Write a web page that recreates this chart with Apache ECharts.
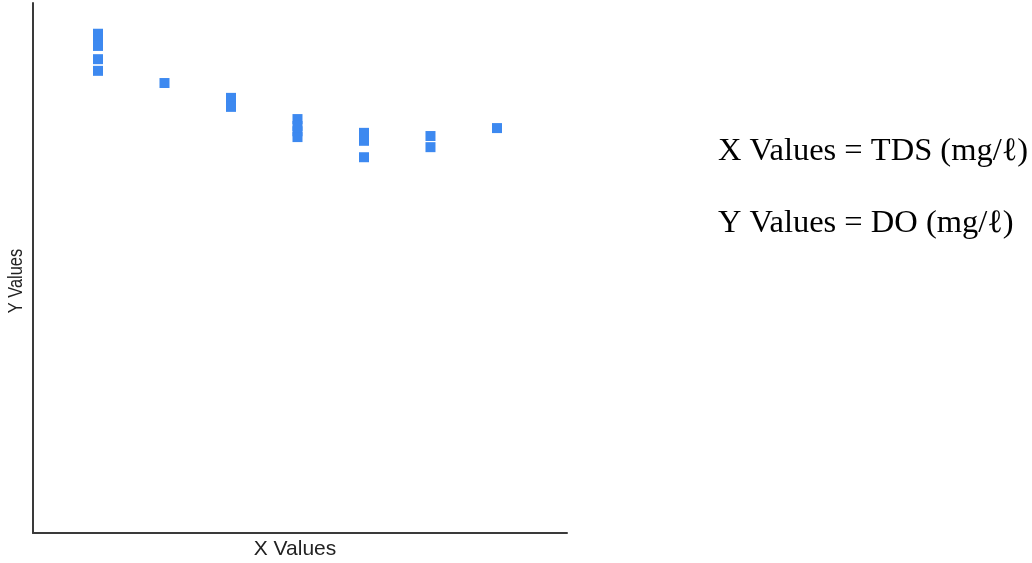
<!DOCTYPE html>
<html>
<head>
<meta charset="utf-8">
<script src="https://cdn.jsdelivr.net/npm/echarts@6/dist/echarts.min.js"></script>
<style>
  html, body { margin: 0; padding: 0; background: #ffffff; }
  #chart { width: 1032px; height: 563px; }
</style>
</head>
<body>
<div id="chart"></div>
<script>
// Sampling stations (x) and their dissolved oxygen readings (y), one reading per point
const stationX = [1, 1, 1, 1, 1, 2, 3, 3, 4, 4, 4, 4, 5, 5, 5, 6, 6, 7];
const doValues = [9.42, 9.30, 9.19, 8.94, 8.72, 8.49, 8.21, 8.04, 7.81, 7.68, 7.58, 7.47, 7.55, 7.40, 7.09, 7.49, 7.28, 7.64];

const xAxisName = 'X Values';
const yAxisName = 'Y Values';
const noteLines = ['X Values = TDS (mg/\u2113)', 'Y Values = DO (mg/\u2113)'];

const points = stationX.map((x, i) => [x, doValues[i]]);

const chart = echarts.init(document.getElementById('chart'));
chart.setOption({
  animation: false,
  backgroundColor: '#ffffff',
  grid: { left: 33, top: 3, width: 534, height: 530 },
  xAxis: {
    type: 'value', min: 0.0226, max: 8.053,
    axisLine: { show: true, onZero: false, lineStyle: { color: '#3a3a3a', width: 2 } },
    axisTick: { show: false }, axisLabel: { show: false }, splitLine: { show: false }
  },
  yAxis: {
    type: 'value', min: 0, max: 10,
    axisLine: { show: true, onZero: false, lineStyle: { color: '#3a3a3a', width: 2 } },
    axisTick: { show: false }, axisLabel: { show: false }, splitLine: { show: false }
  },
  series: [{
    type: 'scatter',
    data: points,
    symbol: 'rect',
    symbolSize: 10,
    itemStyle: { color: '#3d89f0', opacity: 1 }
  }],
  graphic: [
    {
      type: 'text', x: 295, y: 539,
      style: { text: xAxisName, align: 'center', verticalAlign: 'top',
               font: '21px "Liberation Sans", Arial, sans-serif', fill: '#222' }
    },
    {
      type: 'text', x: 6, y: 281, rotation: Math.PI / 2, scaleX: 0.78,
      style: { text: yAxisName, align: 'center', verticalAlign: 'top',
               font: '21px "Liberation Sans", Arial, sans-serif', fill: '#222' }
    },
    {
      type: 'text', left: 718, top: 135,
      style: { text: noteLines[0], font: '32.5px "Liberation Serif", "Times New Roman", serif', fill: '#000' }
    },
    {
      type: 'text', left: 718, top: 207,
      style: { text: noteLines[1], font: '32.5px "Liberation Serif", "Times New Roman", serif', fill: '#000' }
    }
  ]
});
</script>
</body>
</html>
